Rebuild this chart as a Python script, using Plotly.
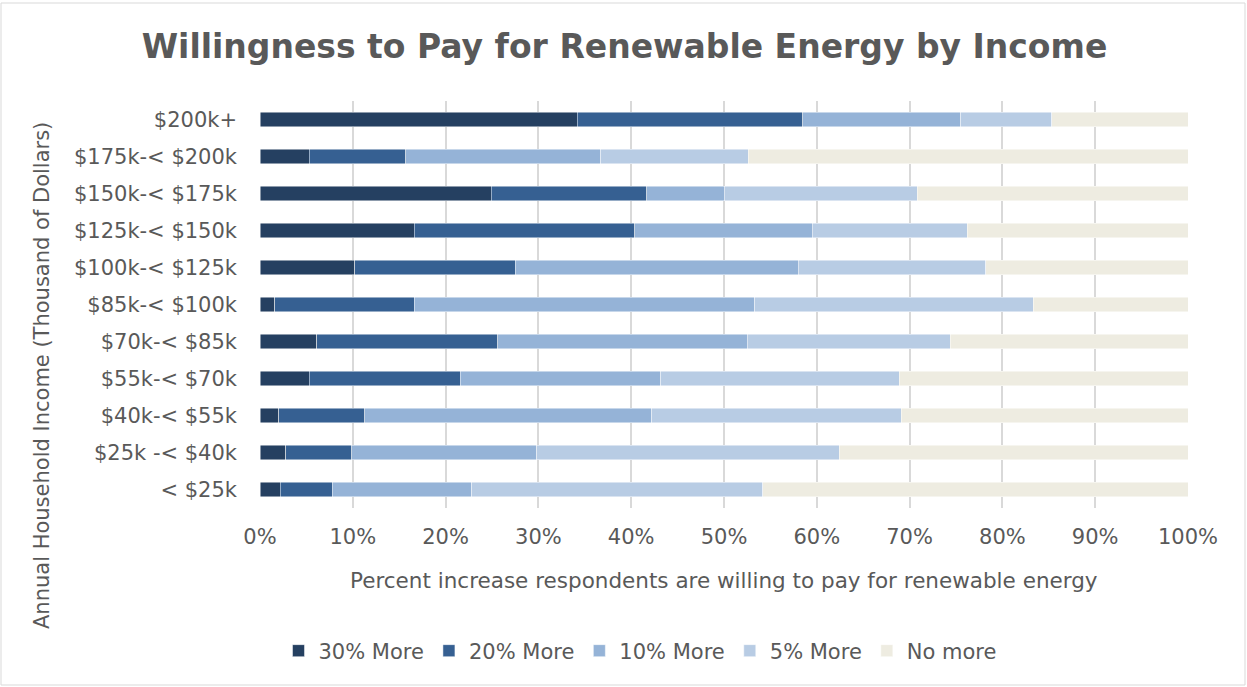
import plotly.graph_objects as go

categories = ["$200k+", "$175k-< $200k", "$150k-< $175k", "$125k-< $150k",
              "$100k-< $125k", "$85k-< $100k", "$70k-< $85k", "$55k-< $70k",
              "$40k-< $55k", "$25k -< $40k", "< $25k"]

more30 = [34.2, 5.3, 24.9, 16.6, 10.2, 1.6, 6.1, 5.3, 2.0, 2.8, 2.2]
more20 = [24.3, 10.4, 16.8, 23.8, 17.3, 15.0, 19.5, 16.3, 9.3, 7.1, 5.6]
more10 = [17.0, 21.0, 8.3, 19.1, 30.5, 36.7, 26.9, 21.6, 30.9, 19.9, 15.0]
more5 = [9.8, 15.9, 20.8, 16.7, 20.2, 30.0, 21.9, 25.7, 26.9, 32.6, 31.4]
nomore = [14.7, 47.4, 29.2, 23.8, 21.8, 16.7, 25.6, 31.1, 30.9, 37.6, 45.8]

series_names = ["30% More", "20% More", "10% More", "5% More", "No more"]
series_values = [more30, more20, more10, more5, nomore]
colors = ["#254061", "#366092", "#95B3D7", "#B8CCE4", "#EEECE1"]

tick_vals = [0, 10, 20, 30, 40, 50, 60, 70, 80, 90, 100]
tick_text = [f"{v}%" for v in tick_vals]

FONT = "DejaVu Sans"
TXT = "#595959"
FS = 21

fig = go.Figure()
for name, vals, col in zip(series_names, series_values, colors):
    fig.add_trace(go.Bar(
        y=categories, x=vals, name=name, orientation="h",
        marker=dict(color=col, line=dict(color="rgba(255,255,255,0.6)", width=0.8)),
    ))

W, H = 1247, 687
L, R, T, B = 260, 59, 101, 179
pw, ph = W - L - R, H - T - B

def px_x(x):
    return (x - L) / pw

def px_y(y):
    return (H - B - y) / ph

fig.update_layout(
    width=W, height=H,
    margin=dict(l=L, r=R, t=T, b=B),
    barmode="stack", bargap=0.595,
    paper_bgcolor="white", plot_bgcolor="white",
    font=dict(family=FONT, color=TXT, size=FS),
    title=dict(text="<b>Willingness to Pay for Renewable Energy by Income</b>",
               x=px_x(624.5), xanchor="center", xref="paper",
               y=1 - 46 / H, yanchor="middle",
               font=dict(family=FONT, size=33, color=TXT)),
    xaxis=dict(range=[0, 100], tickvals=tick_vals, ticktext=tick_text,
               showgrid=True, gridcolor="#D9D9D9", gridwidth=2,
               zeroline=False, showline=False, ticks="",
               ticklabelstandoff=14,
               tickfont=dict(size=FS, color=TXT)),
    yaxis=dict(autorange="reversed", showgrid=False, zeroline=False,
               showline=False, ticks="", ticklabelstandoff=22,
               tickfont=dict(size=FS, color=TXT)),
    legend=dict(orientation="h", x=px_x(640), xanchor="center",
                y=px_y(651), yanchor="middle",
                font=dict(size=FS, color=TXT), itemwidth=30,
                traceorder="normal"),
    showlegend=True,
)

fig.add_annotation(text="Percent increase respondents are willing to pay for renewable energy",
                   xref="paper", yref="paper", x=px_x(724), y=px_y(580),
                   xanchor="center", yanchor="middle", showarrow=False,
                   font=dict(size=21.5, color=TXT, family=FONT))
fig.add_annotation(text="Annual Household Income (Thousand of Dollars)",
                   xref="paper", yref="paper", x=px_x(42), y=px_y(376),
                   xanchor="center", yanchor="middle", showarrow=False,
                   textangle=-90,
                   font=dict(size=FS, color=TXT, family=FONT))

fig.add_shape(type="rect", xref="paper", yref="paper",
              x0=px_x(1), x1=px_x(1245), y0=px_y(685), y1=px_y(3),
              line=dict(color="#D9D9D9", width=1), fillcolor="rgba(0,0,0,0)",
              layer="below")

fig.write_html("out.html", config={"displayModeBar": False},
               post_script="document.body.style.margin='0px';document.body.style.overflow='hidden';")
